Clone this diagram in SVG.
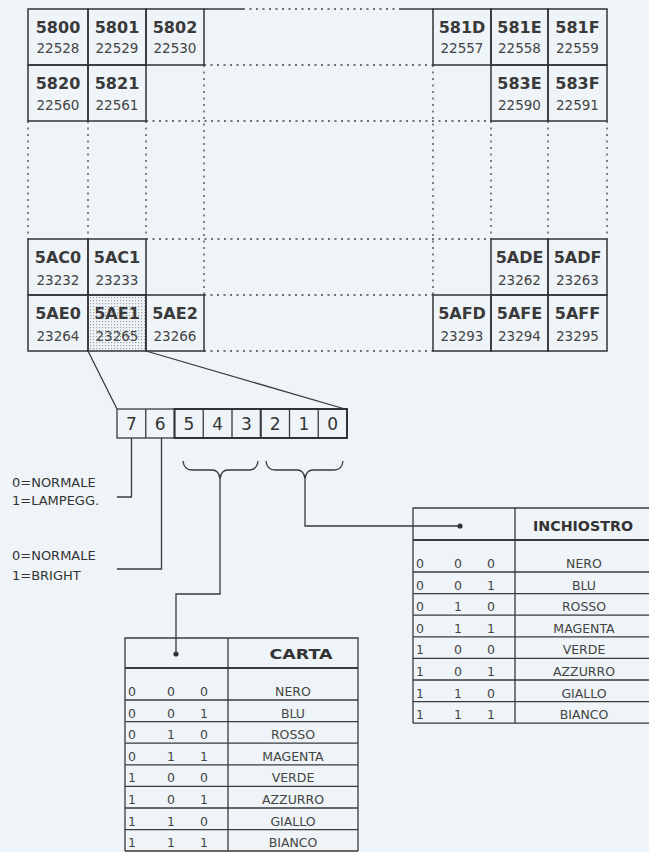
<svg xmlns="http://www.w3.org/2000/svg" width="649" height="852" viewBox="0 0 649 852">
<style>
.bg{fill:#eef4f8}
.ln{stroke:#3a3a3a;stroke-width:1.3;fill:none}
.thk{stroke:#333;stroke-width:2;fill:none}
.dot{stroke:#444;stroke-width:1.3;fill:none;stroke-dasharray:2 4.5}
.cell{fill:none;stroke:#333;stroke-width:1.5}
.hx{font-family:"DejaVu Sans",sans-serif;font-weight:bold;font-size:16px;fill:#3a3a3a;text-anchor:middle}
.dc{font-family:"DejaVu Sans",sans-serif;font-size:13.5px;fill:#444;text-anchor:middle}
.bit{font-family:"DejaVu Sans",sans-serif;font-size:17px;fill:#333;text-anchor:middle}
.lbl{font-family:"DejaVu Sans",sans-serif;font-size:13px;fill:#333}
.td{font-family:"DejaVu Sans",sans-serif;font-size:12.5px;fill:#444;text-anchor:middle}
.th{font-family:"DejaVu Sans",sans-serif;font-weight:bold;font-size:14px;fill:#333;text-anchor:middle}
</style>
<defs>
<pattern id="stip" width="3" height="3" patternUnits="userSpaceOnUse">
<rect x="0" y="0" width="1.2" height="1.2" fill="#9aa0a4"/>
</pattern>
</defs>
<rect class="bg" x="0" y="0" width="649" height="852"/>

<g id="grid-dotted">
<path class="dot" d="M243,9H400 M204,65H433 M146,121H491 M146,239H491 M204,295H433 M204,351H433"/>
<path class="dot" d="M204,65V295 M433,65V295 M28,121V239 M88,121V239 M146,121V239 M491,121V239 M548,121V239 M607,121V239"/>
<path class="ln" d="M204,9H243 M400,9H433"/>
</g>

<g id="cell-5800"><rect class="cell" x="28" y="9" width="60" height="56"/><text class="hx" x="58" y="33">5800</text><text class="dc" x="58" y="53">22528</text></g>
<g id="cell-5801"><rect class="cell" x="88" y="9" width="58" height="56"/><text class="hx" x="117" y="33">5801</text><text class="dc" x="117" y="53">22529</text></g>
<g id="cell-5802"><rect class="cell" x="146" y="9" width="58" height="56"/><text class="hx" x="175" y="33">5802</text><text class="dc" x="175" y="53">22530</text></g>
<g id="cell-581D"><rect class="cell" x="433" y="9" width="58" height="56"/><text class="hx" x="462" y="33">581D</text><text class="dc" x="462" y="53">22557</text></g>
<g id="cell-581E"><rect class="cell" x="491" y="9" width="57" height="56"/><text class="hx" x="519.5" y="33">581E</text><text class="dc" x="519.5" y="53">22558</text></g>
<g id="cell-581F"><rect class="cell" x="548" y="9" width="59" height="56"/><text class="hx" x="577.5" y="33">581F</text><text class="dc" x="577.5" y="53">22559</text></g>

<g id="cell-5820"><rect class="cell" x="28" y="65" width="60" height="56"/><text class="hx" x="58" y="89">5820</text><text class="dc" x="58" y="110">22560</text></g>
<g id="cell-5821"><rect class="cell" x="88" y="65" width="58" height="56"/><text class="hx" x="117" y="89">5821</text><text class="dc" x="117" y="110">22561</text></g>
<g id="cell-583E"><rect class="cell" x="491" y="65" width="57" height="56"/><text class="hx" x="519.5" y="89">583E</text><text class="dc" x="519.5" y="110">22590</text></g>
<g id="cell-583F"><rect class="cell" x="548" y="65" width="59" height="56"/><text class="hx" x="577.5" y="89">583F</text><text class="dc" x="577.5" y="110">22591</text></g>

<g id="cell-5AC0"><rect class="cell" x="28" y="239" width="60" height="56"/><text class="hx" x="58" y="263">5AC0</text><text class="dc" x="58" y="285">23232</text></g>
<g id="cell-5AC1"><rect class="cell" x="88" y="239" width="58" height="56"/><text class="hx" x="117" y="263">5AC1</text><text class="dc" x="117" y="285">23233</text></g>
<g id="cell-5ADE"><rect class="cell" x="491" y="239" width="57" height="56"/><text class="hx" x="519.5" y="263">5ADE</text><text class="dc" x="519.5" y="285">23262</text></g>
<g id="cell-5ADF"><rect class="cell" x="548" y="239" width="59" height="56"/><text class="hx" x="577.5" y="263">5ADF</text><text class="dc" x="577.5" y="285">23263</text></g>

<g id="cell-5AE0"><rect class="cell" x="28" y="295" width="60" height="56"/><text class="hx" x="58" y="319">5AE0</text><text class="dc" x="58" y="341">23264</text></g>
<g id="cell-5AE1"><rect x="88" y="295" width="58" height="56" fill="url(#stip)"/><rect class="cell" x="88" y="295" width="58" height="56"/><text class="hx" x="117" y="319">5AE1</text><text class="dc" x="117" y="341">23265</text></g>
<g id="cell-5AE2"><rect class="cell" x="146" y="295" width="58" height="56"/><text class="hx" x="175" y="319">5AE2</text><text class="dc" x="175" y="341">23266</text></g>
<g id="cell-5AFD"><rect class="cell" x="433" y="295" width="58" height="56"/><text class="hx" x="462" y="319">5AFD</text><text class="dc" x="462" y="341">23293</text></g>
<g id="cell-5AFE"><rect class="cell" x="491" y="295" width="57" height="56"/><text class="hx" x="519.5" y="319">5AFE</text><text class="dc" x="519.5" y="341">23294</text></g>
<g id="cell-5AFF"><rect class="cell" x="548" y="295" width="59" height="56"/><text class="hx" x="577.5" y="319">5AFF</text><text class="dc" x="577.5" y="341">23295</text></g>

<g id="byte">
<rect class="ln" x="117" y="409" width="230" height="29"/>
<path class="ln" d="M145.75,409V438 M174.5,409V438 M203.25,409V438 M232,409V438 M289.5,409V438 M318.25,409V438"/>
<rect class="thk" x="174.5" y="409" width="172.5" height="29"/>
<path class="thk" d="M260.75,409V438"/>
<text class="bit" x="131.4" y="430">7</text>
<text class="bit" x="160.1" y="430">6</text>
<text class="bit" x="188.9" y="430">5</text>
<text class="bit" x="217.6" y="430">4</text>
<text class="bit" x="246.4" y="430">3</text>
<text class="bit" x="275.1" y="430">2</text>
<text class="bit" x="303.9" y="430">1</text>
<text class="bit" x="332.6" y="430">0</text>
</g>

<g id="braces">
<path class="ln" d="M183,461 Q184,470 192,470 L212,470 Q219,470 220,479 Q221,470 228,470 L249,470 Q257,470 258,461"/>
<path class="ln" d="M266,461 Q267,470 275,470 L297,470 Q304,470 305,479 Q306,470 313,470 L334,470 Q342,470 343,461"/>
</g>

<g id="labels">
<text class="lbl" x="12" y="487">0=NORMALE</text>
<text class="lbl" x="12" y="505">1=LAMPEGG.</text>
<text class="lbl" x="12" y="560">0=NORMALE</text>
<text class="lbl" x="12" y="580">1=BRIGHT</text>
</g>

<g id="connectors">
<path class="ln" d="M88,351L117,409 M146,351L345,409"/>
<path class="ln" d="M131.5,438V497H117"/>
<path class="ln" d="M161.5,438V569H117"/>
<path class="ln" d="M220,479V594H176V654"/>
<path class="ln" d="M305,479V526H460"/>
<circle cx="176" cy="654" r="2.6" fill="#333"/>
<circle cx="460" cy="526" r="2.6" fill="#333"/>
</g>

<g id="table-inchiostro">
<path class="ln" d="M413,723.2V508H653 M515,508V723.2"/>
<path class="ln" d="M413,540H653" style="stroke-width:1.8"/>
<path class="ln" d="M413,572H653 M413,593.6H653 M413,615.2H653 M413,636.8H653 M413,658.4H653 M413,680H653 M413,701.6H653 M413,723.2H653"/>
<text class="th" x="583" y="531" textLength="100" lengthAdjust="spacingAndGlyphs">INCHIOSTRO</text>
<g class="td">
<text x="420" y="568">0</text><text x="458" y="568">0</text><text x="491" y="568">0</text><text x="584" y="568">NERO</text>
<text x="420" y="589.6">0</text><text x="458" y="589.6">0</text><text x="491" y="589.6">1</text><text x="584" y="589.6">BLU</text>
<text x="420" y="611.2">0</text><text x="458" y="611.2">1</text><text x="491" y="611.2">0</text><text x="584" y="611.2">ROSSO</text>
<text x="420" y="632.8">0</text><text x="458" y="632.8">1</text><text x="491" y="632.8">1</text><text x="584" y="632.8">MAGENTA</text>
<text x="420" y="654.4">1</text><text x="458" y="654.4">0</text><text x="491" y="654.4">0</text><text x="584" y="654.4">VERDE</text>
<text x="420" y="676">1</text><text x="458" y="676">0</text><text x="491" y="676">1</text><text x="584" y="676">AZZURRO</text>
<text x="420" y="697.6">1</text><text x="458" y="697.6">1</text><text x="491" y="697.6">0</text><text x="584" y="697.6">GIALLO</text>
<text x="420" y="719.2">1</text><text x="458" y="719.2">1</text><text x="491" y="719.2">1</text><text x="584" y="719.2">BIANCO</text>
</g>
</g>

<g id="table-carta">
<path class="ln" d="M125,851V638H358V851 M228,638V851"/>
<path class="ln" d="M125,668H358" style="stroke-width:1.8"/>
<path class="ln" d="M125,700H358 M125,721.6H358 M125,743.2H358 M125,764.8H358 M125,786.4H358 M125,808H358 M125,829.6H358 M125,851H358"/>
<text class="th" x="301" y="659" textLength="63" lengthAdjust="spacingAndGlyphs">CARTA</text>
<g class="td">
<text x="132" y="696">0</text><text x="171" y="696">0</text><text x="204" y="696">0</text><text x="293" y="696">NERO</text>
<text x="132" y="717.6">0</text><text x="171" y="717.6">0</text><text x="204" y="717.6">1</text><text x="293" y="717.6">BLU</text>
<text x="132" y="739.2">0</text><text x="171" y="739.2">1</text><text x="204" y="739.2">0</text><text x="293" y="739.2">ROSSO</text>
<text x="132" y="760.8">0</text><text x="171" y="760.8">1</text><text x="204" y="760.8">1</text><text x="293" y="760.8">MAGENTA</text>
<text x="132" y="782.4">1</text><text x="171" y="782.4">0</text><text x="204" y="782.4">0</text><text x="293" y="782.4">VERDE</text>
<text x="132" y="804">1</text><text x="171" y="804">0</text><text x="204" y="804">1</text><text x="293" y="804">AZZURRO</text>
<text x="132" y="825.6">1</text><text x="171" y="825.6">1</text><text x="204" y="825.6">0</text><text x="293" y="825.6">GIALLO</text>
<text x="132" y="847.2">1</text><text x="171" y="847.2">1</text><text x="204" y="847.2">1</text><text x="293" y="847.2">BIANCO</text>
</g>
</g>
</svg>
